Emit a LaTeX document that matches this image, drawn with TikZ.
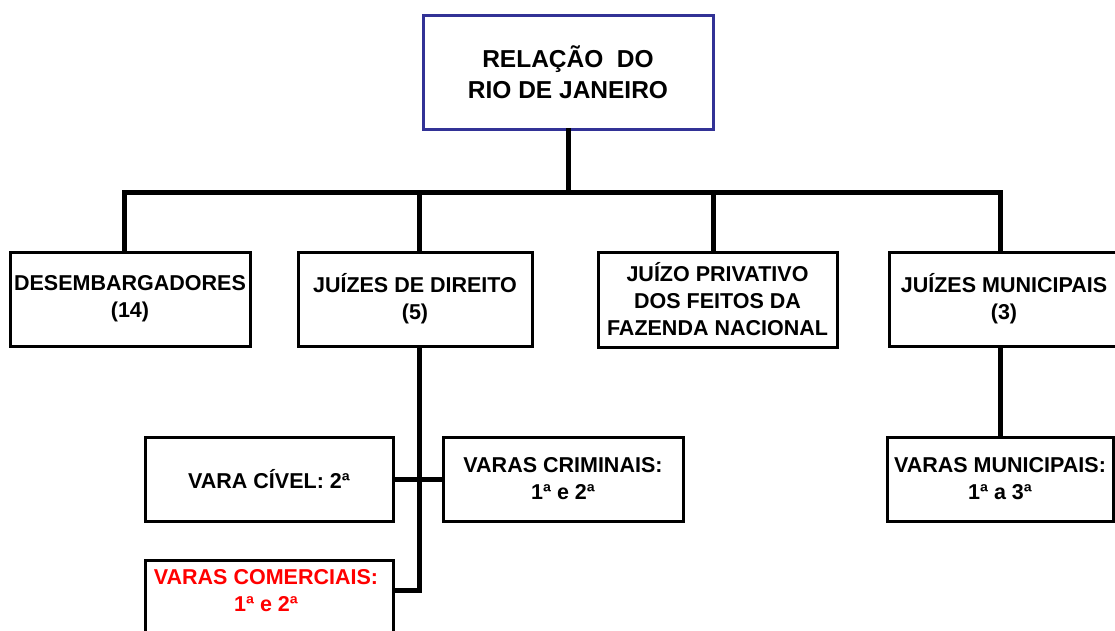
\documentclass[tikz,border=0pt]{standalone}
\usepackage{fontspec}
\setmainfont{Liberation Sans}
\definecolor{topblue}{RGB}{50,50,150}
\begin{document}
\begin{tikzpicture}[x=1pt,y=-1pt,
  box/.style={draw=black,line width=3pt,minimum width=#1,inner sep=0pt,align=center,
    font=\fontsize{21.5}{27}\selectfont\bfseries},
  link/.style={line width=5pt,line cap=rect}]
\clip (0,0) rectangle (1115,630);
\fill[white] (0,0) rectangle (1115,630);
% top
\node[box=290pt,draw=topblue,minimum height=114pt,font=\fontsize{24.5}{31}\selectfont\bfseries] (rel) at (568,72) {RELAÇÃO\ \ DO\\RIO DE JANEIRO};
% level 2
\node[box=240pt,minimum height=94pt] (des) at (130,299) {DESEMBARGADORES\\(14)};
\node[box=234pt,minimum height=94pt] (jd) at (415,299) {JUÍZES DE DIREITO\\(5)};
\node[box=239pt,minimum height=95pt] (jp) at (717.5,299.5) {JUÍZO PRIVATIVO\\DOS FEITOS DA\\FAZENDA NACIONAL};
\node[box=230pt,minimum height=94pt] (jm) at (1004,299) {JUÍZES MUNICIPAIS\\(3)};
% level 3
\node[box=248pt,minimum height=84pt] (vc) at (269,479) {VARA CÍVEL: 2ª};
\node[box=240pt,minimum height=84pt] (vcr) at (563,479) {VARAS CRIMINAIS:\\1ª e 2ª};
\node[box=248pt,minimum height=100pt] (vcom) at (269,610) {};
\node[text=red,font=\fontsize{21.5}{27}\selectfont\bfseries,align=center] (vcomt) at (266,591) {VARAS COMERCIAIS:\\1ª e 2ª};
\node[box=226pt,minimum height=84pt] (vm) at (1000,479) {VARAS MUNICIPAIS:\\1ª a 3ª};
% connectors
\coordinate (bus) at (568,192);
\draw[link] (rel.south) -- (bus);
\draw[link] ([xshift=-6pt]des.north) |- (bus);
\draw[link] ([xshift=4pt]jd.north) |- (bus);
\draw[link] ([xshift=-4.5pt]jp.north) |- (bus);
\draw[link] ([xshift=-4pt]jm.north) |- (bus);
\coordinate (jdbot) at (419,590);
\draw[link] ([xshift=4pt]jd.south) -- (jdbot);
\draw[link] (vc.east) -- (vcr.west);
\draw[link] (vcom.east |- jdbot) -- (jdbot);
\draw[link] ([xshift=-4pt]jm.south) -- ([xshift=0pt]vm.north);
\end{tikzpicture}
\end{document}
